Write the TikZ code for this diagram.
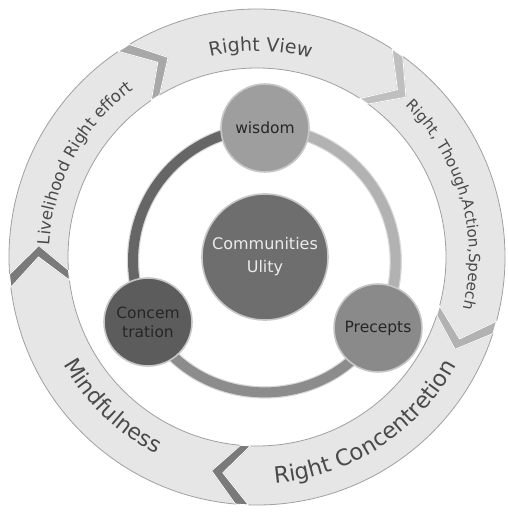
\documentclass[tikz,border=0pt]{standalone}
\usepackage{fontspec}
\setmainfont{DejaVu Sans}
\usetikzlibrary{decorations.text}

\definecolor{ringfill}{HTML}{E6E6E6}
\definecolor{ringline}{HTML}{A0A0A0}
\definecolor{ringtext}{HTML}{4A4A4A}

\tikzset{
  segment/.style={fill=ringfill, draw=ringline, line width=0.8pt},
  notch/.style={draw=white, line width=0.8pt},
  spoke/.style={draw=black!15, line width=1.2pt, double distance=10pt},
  hub/.style={circle, fill=black!#1, draw=black!22, line width=1.6pt,
    minimum size=88pt, inner sep=0pt, align=center, text=black!85,
    font=\fontsize{15.5}{19}\selectfont},
}

\begin{document}
\begin{tikzpicture}[x=1pt, y=1pt]
    \useasboundingbox (-257,-256) rectangle (250,257);

    \foreach \s/\e in {121/57, 54/-15, -18/-92, -95/-173, 184/124}
      \draw[segment] (\s:248) arc[start angle=\s, end angle=\e, radius=248pt]
        -- ({\e-7}:218.5) -- (\e:189) arc[start angle=\e, end angle=\s, radius=189pt]
        -- ({\s-7}:218.5) -- cycle;

    \foreach \c/\k in {124/34, 57/25, -15/30, -92/52, 187/52}
      \draw[notch, fill=black!\k] (\c:248) -- ({\c-7}:218.5) -- (\c:189)
        -- ({\c-3}:189) -- ({\c-10}:218.5) -- ({\c-3}:248) -- cycle;

    \path[decorate, decoration={text along path, text align=center, text color=ringtext,
      text={|\fontsize{19}{19}\selectfont|Right View}}]
      (119:206) arc[start angle=119, end angle=59, radius=206pt];
    \path[decorate, decoration={text along path, text align=center, text color=ringtext,
      text={|\fontsize{15.2}{16}\selectfont|Right, Though,Action,Speech}}]
      (55.5:212) arc[start angle=55.5, end angle=-24, radius=212pt];
    \path[decorate, decoration={text along path, text align=center, text color=ringtext,
      text={|\fontsize{22.5}{23}\selectfont|Right Concentretion}}]
      (-97:227) arc[start angle=-97, end angle=-17, radius=227pt];
    \path[decorate, decoration={text along path, text align=center, text color=ringtext,
      text={|\fontsize{22}{23}\selectfont|Mindfulness}}]
      (196:221) arc[start angle=196, end angle=256, radius=221pt];
    \path[decorate, decoration={text along path, text align=center, text color=ringtext,
      text={|\fontsize{16.5}{17}\selectfont|Livelihood Right effort}}]
      (186:208) arc[start angle=186, end angle=117, radius=208pt];

    \coordinate (W) at (8,129);
    \coordinate (P) at (121,-71);
    \coordinate (C) at (-109,-65);

    \draw[spoke, double=black!60] (W) to[bend right=58, looseness=1.13] (C);
    \draw[spoke, double=black!30] (W) to[bend left=59, looseness=1.13] (P);
    \draw[spoke, double=black!45] (P) to[bend left=62, looseness=1.13] (C);

    \node[hub=38] (wisdom) at (W) {wisdom};
    \node[hub=46] (precepts) at (P) {Precepts};
    \node[hub=64] (concentration) at (C) {Concem\\tration};
    \node[hub=57, minimum size=126pt, text=black!8,
      font=\fontsize{16}{23}\selectfont] (community) at (8,0) {Communities\\Ulity};
\end{tikzpicture}
\end{document}
